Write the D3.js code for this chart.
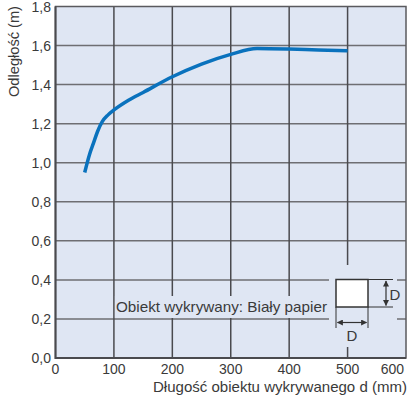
<!DOCTYPE html>
<html><head><meta charset="utf-8">
<script src="https://cdn.jsdelivr.net/npm/d3@7"></script>
<style>body{margin:0;background:#fff}svg{display:block;font-family:"Liberation Sans",Arial,sans-serif}</style>
</head><body><svg id="c" width="409" height="402"></svg>
<script>
const lengthMM = [50, 58, 65, 72, 80, 90, 100, 125, 150, 200, 250, 300, 345, 400, 450, 500];
const distanceM = [0.95, 1.04, 1.10, 1.16, 1.21, 1.245, 1.27, 1.32, 1.36, 1.44, 1.505, 1.555, 1.585, 1.582, 1.577, 1.573];
const xTicks = [0, 100, 200, 300, 400, 500, 600];
const yTicks = [0, 0.2, 0.4, 0.6, 0.8, 1.0, 1.2, 1.4, 1.6, 1.8];
const xTitle = "Długość obiektu wykrywanego d (mm)";
const yTitle = "Odległość (m)";
const note = "Obiekt wykrywany: Biały papier";

const svg = d3.select("#c");
const x = d3.scaleLinear().domain([0, 600]).range([55.5, 406]);
const y = d3.scaleLinear().domain([0, 1.8]).range([358, 6.5]);
const bg = "#dfe6f3";
const txt = "#3a3a3a";
const fmt = v => d3.format(".1f")(v).replace(".", ",");

svg.append("rect").attr("x", x(0)).attr("y", y(1.8)).attr("width", x(600) - x(0)).attr("height", y(0) - y(1.8)).attr("fill", bg);

// grid
svg.append("g").selectAll("line").data(yTicks.filter(v => v > 0 && v < 1.8)).join("line")
  .attr("x1", x(0)).attr("x2", x(600)).attr("y1", d => y(d)).attr("y2", d => y(d))
  .attr("stroke", "#6e6e72").attr("stroke-width", 1.5);
svg.append("g").selectAll("line").data(xTicks.filter(v => v > 0 && v < 600)).join("line")
  .attr("y1", y(0)).attr("y2", y(1.8)).attr("x1", d => x(d)).attr("x2", d => x(d))
  .attr("stroke", "#4a4a4e").attr("stroke-width", 1.5);

// masks
svg.append("rect").attr("x", x(100) + 1).attr("y", 296).attr("width", 329 - x(100) - 1).attr("height", 22).attr("fill", bg);
svg.append("rect").attr("x", 329).attr("y", 265).attr("width", 68).attr("height", 82).attr("fill", bg);

// curve
svg.append("path").datum(lengthMM.map((d, i) => [d, distanceM[i]]))
  .attr("d", d3.line().x(d => x(d[0])).y(d => y(d[1])).curve(d3.curveMonotoneX))
  .attr("fill", "none").attr("stroke", "#0a72bd").attr("stroke-width", 3.5).attr("stroke-linecap", "butt");

// frame
svg.append("rect").attr("x", x(0)).attr("y", y(1.8)).attr("width", x(600) - x(0)).attr("height", y(0) - y(1.8))
  .attr("fill", "none").attr("stroke", "#5a5a5e").attr("stroke-width", 1.5);
svg.append("line").attr("x1", x(0)).attr("x2", x(0)).attr("y1", y(1.8)).attr("y2", y(0) + 1).attr("stroke", "#4a4a4e").attr("stroke-width", 2);
svg.append("line").attr("x1", x(0)).attr("x2", x(600)).attr("y1", y(0)).attr("y2", y(0)).attr("stroke", "#4a4a4e").attr("stroke-width", 2);

// tick labels
svg.append("g").selectAll("text").data(yTicks).join("text")
  .attr("x", 51).attr("y", d => y(d) + 5).attr("text-anchor", "end")
  .attr("font-size", 14).attr("fill", txt).text(fmt);
svg.append("g").selectAll("text").data(xTicks).join("text")
  .attr("x", d => d === 600 ? 404 : x(d)).attr("y", 374)
  .attr("text-anchor", d => d === 600 ? "end" : "middle")
  .attr("font-size", 14).attr("fill", txt).text(d => d);

// titles
svg.append("text").attr("x", 153).attr("y", 392)
  .attr("font-size", 14.5).attr("textLength", 254).attr("lengthAdjust", "spacingAndGlyphs").attr("fill", txt).text(xTitle);
svg.append("text").attr("transform", "translate(19,97) rotate(-90)")
  .attr("font-size", 14).attr("textLength", 91).attr("lengthAdjust", "spacingAndGlyphs").attr("fill", txt).text(yTitle);

// note
svg.append("text").attr("x", 116).attr("y", 311.5).attr("font-size", 14.5)
  .attr("textLength", 211).attr("lengthAdjust", "spacingAndGlyphs").attr("fill", txt).text(note);

// object sketch
const ink = "#333";
svg.append("rect").attr("x", 336).attr("y", 279.5).attr("width", 32).attr("height", 27.5).attr("fill", "#fff").attr("stroke", ink).attr("stroke-width", 1.5);
const ext = [[368, 279.5, 393, 279.5], [368, 307, 393, 307], [336, 307, 336, 328], [368, 307, 368, 328]];
svg.append("g").selectAll("line").data(ext).join("line")
  .attr("x1", d => d[0]).attr("y1", d => d[1]).attr("x2", d => d[2]).attr("y2", d => d[3])
  .attr("stroke", ink).attr("stroke-width", 1);
const defs = svg.append("defs");
defs.append("marker").attr("id", "ah").attr("viewBox", "0 0 10 10").attr("refX", 9).attr("refY", 5)
  .attr("markerWidth", 7).attr("markerHeight", 6).attr("orient", "auto-start-reverse").attr("markerUnits", "userSpaceOnUse")
  .append("path").attr("d", "M0,0L10,5L0,10z").attr("fill", ink);
svg.append("line").attr("x1", 386).attr("x2", 386).attr("y1", 281).attr("y2", 305.5)
  .attr("stroke", ink).attr("stroke-width", 1.2).attr("marker-start", "url(#ah)").attr("marker-end", "url(#ah)");
svg.append("line").attr("x1", 337.5).attr("x2", 366.5).attr("y1", 322.5).attr("y2", 322.5)
  .attr("stroke", ink).attr("stroke-width", 1.2).attr("marker-start", "url(#ah)").attr("marker-end", "url(#ah)");
svg.append("text").attr("x", 389.5).attr("y", 299.5).attr("font-size", 15).attr("fill", txt).text("D");
svg.append("text").attr("x", 352).attr("y", 340.5).attr("text-anchor", "middle").attr("font-size", 15).attr("fill", txt).text("D");
</script></body></html>
